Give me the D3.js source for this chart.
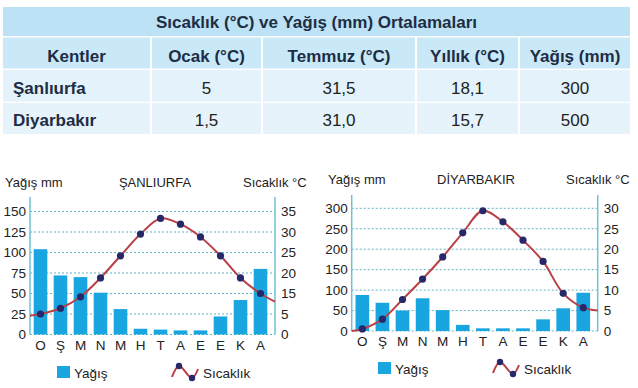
<!DOCTYPE html>
<html>
<head>
<meta charset="utf-8">
<script src="https://cdn.jsdelivr.net/npm/d3@7"></script>
<style>
  html, body { margin: 0; padding: 0; background: #ffffff; }
  svg { display: block; font-family: "Liberation Sans", Arial, Helvetica, sans-serif; }
</style>
</head>
<body>
<svg id="chart" width="638" height="388"></svg>
<script>
// ---------- DATA ----------
const tableTitle = "Sıcaklık (°C) ve Yağış (mm) Ortalamaları";
const tableHeaders = ["Kentler", "Ocak (°C)", "Temmuz (°C)", "Yıllık (°C)", "Yağış (mm)"];
const tableCities = ["Şanlıurfa", "Diyarbakır"];
const tableOcak = ["5", "1,5"];
const tableTemmuz = ["31,5", "31,0"];
const tableYillik = ["18,1", "15,7"];
const tableYagis = ["300", "500"];

const months = ["O", "Ş", "M", "N", "M", "H", "T", "A", "E", "E", "K", "A"];

const urfaName = "ŞANLIURFA";
const urfaRain = [104, 72, 70, 51, 31, 7, 6, 5, 5, 22, 42, 80];
const urfaTemp = [5, 7.8, 13.4, 18.8, 24.2, 29.5, 33.3, 31.9, 28.8, 24.2, 18.8, 15];
const urfaTempEdges = [4.6, 11];          // curve value at left / right axis
const urfaRainTicks = [0, 25, 50, 75, 100, 125, 150];
const urfaTempTicks = [0, 5, 15, 20, 25, 30, 35];

const diyName = "DİYARBAKIR";
const diyRain = [88, 69, 50, 80, 51, 15, 6.5, 6.5, 6.5, 28.5, 55.5, 93.5];
const diyTemp = [0.5, 2.9, 7.7, 12.7, 18.1, 24, 29.4, 26.7, 22.2, 17, 9.2, 5.7];
const diyTempEdges = [0, 5];
const diyRainTicks = [0, 50, 100, 150, 200, 250, 300];
const diyTempTicks = [0, 5, 10, 15, 20, 25, 30];

const leftTitle = "Yağış mm";
const rightTitle = "Sıcaklık °C";
const legendRain = "Yağış";
const legendTemp = "Sıcaklık";

// ---------- STYLE ----------
const BAR = "#18a5e0";
const LINE = "#b84148";
const DOT = "#27286a";
const AXIS = "#6cc3d6";
const GRID = "#5fb3c4";
const TXT = "#222222";

const svg = d3.select("#chart");

// ---------- TABLE ----------
const colEdges = [3, 151, 262, 416, 519, 630];
const rowEdges = [[7, 36], [37.5, 68.5], [70, 101.5], [103, 134]];
const T = svg.append("g");
T.append("rect").attr("x", colEdges[0]).attr("y", rowEdges[0][0])
  .attr("width", colEdges[5] - colEdges[0]).attr("height", rowEdges[0][1] - rowEdges[0][0])
  .attr("fill", "#bde2f6");
T.append("text").attr("x", (colEdges[0] + colEdges[5]) / 2).attr("y", 28)
  .attr("text-anchor", "middle").attr("font-size", 17).attr("font-weight", "bold")
  .attr("fill", "#1c2d44").text(tableTitle);

const rowsData = [
  tableHeaders,
  [tableCities[0], tableOcak[0], tableTemmuz[0], tableYillik[0], tableYagis[0]],
  [tableCities[1], tableOcak[1], tableTemmuz[1], tableYillik[1], tableYagis[1]]
];
const rowFill = ["#c9e8f8", "#e3f2fb", "#e6f3fb"];
const baselines = [62, 94, 126];
rowsData.forEach((row, ri) => {
  const [y0, y1] = rowEdges[ri + 1];
  row.forEach((cell, ci) => {
    const x0 = colEdges[ci] + (ci === 0 ? 0 : 1);
    const x1 = colEdges[ci + 1] - (ci === 4 ? 0 : 1);
    T.append("rect").attr("x", x0).attr("y", y0).attr("width", x1 - x0).attr("height", y1 - y0)
      .attr("fill", rowFill[ri]);
    const isLeftCity = ri > 0 && ci === 0;
    const bold = ri === 0 || ci === 0;
    T.append("text")
      .attr("x", isLeftCity ? x0 + 10 : (x0 + x1) / 2)
      .attr("y", baselines[ri])
      .attr("text-anchor", isLeftCity ? "start" : "middle")
      .attr("font-size", 17)
      .attr("font-weight", bold ? "bold" : "normal")
      .attr("fill", bold ? "#1c2d44" : TXT)
      .text(cell);
  });
});

// ---------- CHARTS ----------
function drawChart(cfg) {
  const g = svg.append("g");
  const x = d3.scaleBand().domain(d3.range(months.length))
    .range([cfg.bandL, cfg.bandR]).paddingInner(0.32).paddingOuter(0.16);
  const yR = d3.scaleLinear().domain([0, d3.max(cfg.rainTicks)]).range([cfg.y0, cfg.yTop]);
  // temperature scale mapped onto the same gridlines as its tick labels
  const yT = d3.scaleLinear().domain(cfg.tempTicks).range(cfg.rainTicks.map(yR));

  // gridlines
  g.selectAll("line.grid").data(cfg.rainTicks).join("line")
    .attr("x1", cfg.axL).attr("x2", cfg.axR)
    .attr("y1", d => yR(d)).attr("y2", d => yR(d))
    .attr("stroke", GRID).attr("stroke-width", 1).attr("stroke-dasharray", "2,2");

  // bars
  g.selectAll("rect.bar").data(cfg.rain).join("rect")
    .attr("x", (d, i) => x(i)).attr("width", x.bandwidth())
    .attr("y", d => yR(d)).attr("height", d => cfg.y0 - yR(d))
    .attr("fill", BAR);

  // axes
  const axisLeft = d3.axisLeft(yR).tickValues(cfg.rainTicks).tickSize(0).tickPadding(4);
  const gl = g.append("g").attr("transform", `translate(${cfg.axL},0)`).call(axisLeft);
  const axisRight = d3.axisRight(yT).tickValues(cfg.tempTicks).tickSize(0).tickPadding(6);
  const gr = g.append("g").attr("transform", `translate(${cfg.axR},0)`).call(axisRight);
  [gl, gr].forEach(a => {
    a.select(".domain").remove();
    a.selectAll("text").attr("font-size", 13.5).attr("fill", TXT)
      .attr("font-family", "Liberation Sans, Arial, sans-serif");
  });
  [cfg.axL, cfg.axR].forEach(ax => {
    g.append("line").attr("x1", ax).attr("x2", ax).attr("y1", cfg.axTop).attr("y2", cfg.y0)
      .attr("stroke", AXIS).attr("stroke-width", 1.5);
  });

  // x labels
  g.selectAll("text.mon").data(months).join("text")
    .attr("x", (d, i) => x(i) + x.bandwidth() / 2).attr("y", cfg.y0 + 15)
    .attr("text-anchor", "middle").attr("font-size", 13.5).attr("fill", TXT).text(d => d);

  // temperature line
  const pts = [[cfg.axL, cfg.tempEdges[0]]]
    .concat(cfg.temp.map((t, i) => [x(i) + x.bandwidth() / 2, t]))
    .concat([[cfg.axR, cfg.tempEdges[1]]]);
  const line = d3.line().x(d => d[0]).y(d => yT(d[1])).curve(d3.curveCatmullRom.alpha(0.5));
  g.append("path").datum(pts).attr("d", line)
    .attr("fill", "none").attr("stroke", LINE).attr("stroke-width", 2);
  g.selectAll("circle.pt").data(cfg.temp).join("circle")
    .attr("cx", (d, i) => x(i) + x.bandwidth() / 2).attr("cy", d => yT(d))
    .attr("r", 3.6).attr("fill", DOT);

  // titles
  g.append("text").attr("x", cfg.titleL).attr("y", cfg.titleY).attr("font-size", 13)
    .attr("fill", TXT).text(leftTitle);
  g.append("text").attr("x", cfg.nameX).attr("y", cfg.titleY).attr("font-size", 13)
    .attr("text-anchor", "middle").attr("fill", TXT).text(cfg.name);
  g.append("text").attr("x", cfg.titleR).attr("y", cfg.titleY).attr("font-size", 13)
    .attr("fill", TXT).text(rightTitle);

  // legend
  const L = cfg.legend;
  g.append("rect").attr("x", L.x).attr("y", L.y - 11).attr("width", 13).attr("height", 12)
    .attr("fill", BAR);
  g.append("text").attr("x", L.x + 17).attr("y", L.y + 1).attr("font-size", 13.5)
    .attr("fill", TXT).text(legendRain);
  const sx = L.x + 115;
  const sym = [[sx, L.y], [sx + 7, L.y - 11], [sx + 20, L.y + 1], [sx + 26, L.y - 8]];
  g.append("path").attr("d", d3.line().curve(d3.curveCatmullRom)(sym))
    .attr("fill", "none").attr("stroke", LINE).attr("stroke-width", 2);
  g.selectAll("circle.lg").data([sym[1], sym[2]]).join("circle")
    .attr("cx", d => d[0]).attr("cy", d => d[1]).attr("r", 3.2).attr("fill", DOT);
  g.append("text").attr("x", sx + 31).attr("y", L.y + 1).attr("font-size", 13.5)
    .attr("fill", TXT).text(legendTemp);
}

drawChart({
  name: urfaName, rain: urfaRain, temp: urfaTemp, tempEdges: urfaTempEdges,
  rainTicks: urfaRainTicks, tempTicks: urfaTempTicks,
  axL: 30, axR: 275, bandL: 30.5, bandR: 270.5, y0: 334.5, yTop: 211.5, axTop: 197,
  titleL: 5, titleR: 243, nameX: 155, titleY: 187,
  legend: { x: 57, y: 377 }
});
drawChart({
  name: diyName, rain: diyRain, temp: diyTemp, tempEdges: diyTempEdges,
  rainTicks: diyRainTicks, tempTicks: diyTempTicks,
  axL: 351.7, axR: 597.7, bandL: 352.3, bandR: 593.3, y0: 331, yTop: 208.3, axTop: 195,
  titleL: 328, titleR: 566, nameX: 476, titleY: 184,
  legend: { x: 378, y: 373 }
});
</script>
</body>
</html>
